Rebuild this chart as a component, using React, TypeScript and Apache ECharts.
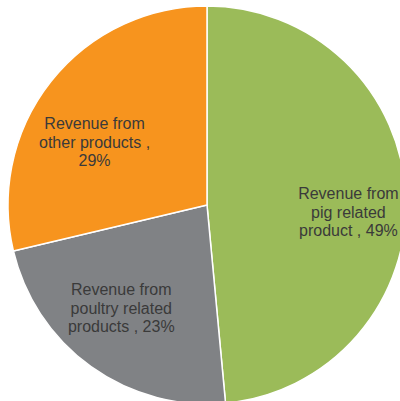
import React, { useEffect, useRef } from "react";
import * as echarts from "echarts";

const categories = [
  "Revenue from pig related product",
  "Revenue from poultry related products",
  "Revenue from other products",
];
const values = [49, 23, 29];
const labelLines = [
  ["Revenue from", "pig related", "product , 49%"],
  ["Revenue from", "poultry related", "products , 23%"],
  ["Revenue from", "other products ,", "29%"],
];
const colors = ["#9BBB59", "#808285", "#F7941E"];
// label nudges from the default inside position (px)
const labelShift = [
  [39, 12],
  [-26, 20],
  [-32, 1],
];

export default function App() {
  const ref = useRef<HTMLDivElement>(null);
  useEffect(() => {
    if (!ref.current) return;
    const chart = echarts.init(ref.current, null, { renderer: "svg" });
    chart.setOption({
      animation: false,
      backgroundColor: "#ffffff",
      series: [
        {
          type: "pie",
          center: [207, 205],
          radius: [0, 199],
          startAngle: 90,
          clockwise: true,
          data: categories.map((name, i) => ({
            name,
            value: values[i],
            itemStyle: { color: colors[i] },
          })),
          itemStyle: { borderColor: "#ffffff", borderWidth: 1.5 },
          label: {
            show: true,
            position: "inside",
            formatter: (p: any) => labelLines[p.dataIndex].join("\n"),
            color: "#3a3a3a",
            fontSize: 16,
            lineHeight: 18.5,
            fontFamily: "'Liberation Sans', Arial, sans-serif",
            align: "center",
          },
          labelLayout: (p: any) => ({
            dx: labelShift[p.dataIndex][0],
            dy: labelShift[p.dataIndex][1],
          }),
          labelLine: { show: false },
          emphasis: { disabled: true },
        },
      ],
    });
    return () => chart.dispose();
  }, []);
  return (
    <div
      ref={ref}
      style={{ position: "fixed", left: 0, top: 0, width: 400, height: 401 }}
    />
  );
}
